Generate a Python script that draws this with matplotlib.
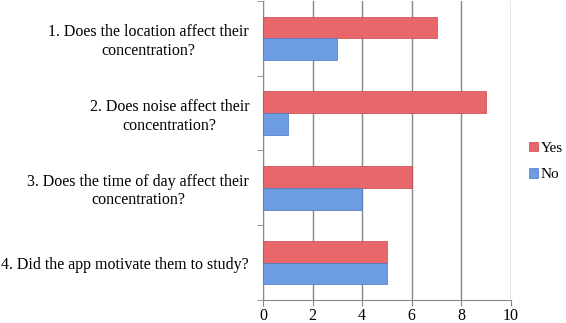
import matplotlib.pyplot as plt
import numpy as np

questions = [
    '1. Does the location affect their\nconcentration?',
    '2. Does noise affect their\nconcentration?',
    '3. Does the time of day affect their\nconcentration?',
    '4. Did the app motivate them to study?',
]
yes = [7, 9, 6, 5]
no = [3, 1, 4, 5]

plt.rcParams['font.family'] = ['Liberation Serif', 'DejaVu Serif']

fig = plt.figure(figsize=(5.66, 3.23), dpi=100)
ax = fig.add_axes([0.4647, 0.0712, 0.4381, 0.9258])

y = np.arange(len(questions))
h = 0.29
ax.barh(y - h / 2, yes, height=h, color='#e8676a', edgecolor='#c94446', linewidth=0.5, label='Yes', zorder=3)
ax.barh(y + h / 2, no, height=h, color='#6c9de3', edgecolor='#4a78c0', linewidth=0.5, label='No', zorder=3)

ax.set_xlim(0, 10)
ax.set_ylim(len(questions) - 0.5, -0.5)
ax.set_xticks(range(0, 11, 2))
ax.set_yticks(y)
ax.set_yticklabels(questions, multialignment='center')
ax.set_yticks(np.arange(-0.5, len(questions), 1), minor=True)
ax.tick_params(axis='y', which='major', length=0, pad=10, labelsize=11.5)
ax.tick_params(axis='y', which='minor', length=4, color='#888888', direction='out')
ax.tick_params(axis='x', length=4, color='#888888', labelsize=11.5, pad=2)
ax.grid(axis='x', color='#888888', linewidth=1, zorder=0)

for s in ['top', 'right']:
    ax.spines[s].set_visible(False)
for s in ['left', 'bottom']:
    ax.spines[s].set_color('#888888')

fig.legend(loc='center left', bbox_to_anchor=(0.934, 0.50), frameon=False,
           fontsize=11, handlelength=0.6, handleheight=0.6, handletextpad=0.2,
           labelspacing=0.85, borderaxespad=0, borderpad=0)

fig.savefig('out.png', dpi=100)
